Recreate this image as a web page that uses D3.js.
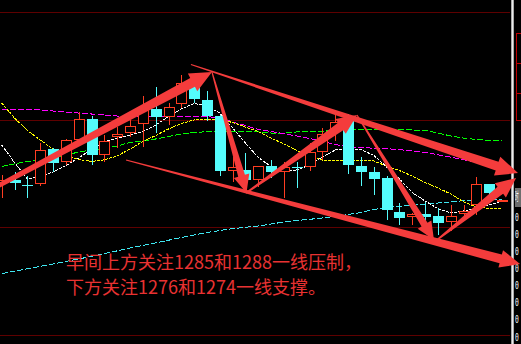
<!DOCTYPE html>
<html><head><meta charset="utf-8">
<script src="https://cdn.jsdelivr.net/npm/d3@7/dist/d3.min.js"></script>
<style>html,body{margin:0;padding:0;background:#000;overflow:hidden}</style>
</head><body>
<svg id="c" width="521" height="344"></svg>
<script>
// ---------------- DATA ----------------
const opens  = [1278.74,1278.97,1278.59,1278.61,1281.56,1280.50,1282.32,1284.05,1281.10,1282.59,
                1282.88,1283.63,1284.91,1284.26,1285.33,1286.83,1285.66,1284.35,1279.75,1279.81,
                1278.97,1280.14,1279.61,1280.08,1280.03,1281.34,1282.96,1283.91,1280.17,1279.64,
                1279.11,1276.29,1275.87,1276.12,1275.96,1275.48,1276.12,1276.88,1278.63,1277.25];
const highs  = [1279.39,1279.66,1279.30,1282.04,1281.65,1282.40,1284.68,1284.35,1282.73,1283.43,
                1283.99,1286.00,1286.72,1285.39,1287.75,1287.08,1286.44,1284.41,1280.92,1281.19,
                1280.14,1280.64,1280.50,1280.47,1282.04,1283.29,1284.49,1284.49,1280.87,1280.06,
                1279.30,1277.02,1276.21,1277.09,1276.63,1276.88,1276.88,1279.25,1278.63,1277.30];
const lows   = [1277.46,1278.13,1277.44,1278.47,1279.61,1280.22,1282.17,1280.22,1280.50,1281.62,
                1282.59,1281.70,1282.88,1283.57,1284.97,1285.39,1283.91,1279.33,1278.83,1278.80,
                1278.41,1279.11,1277.44,1278.30,1279.76,1280.64,1282.26,1279.43,1278.47,1277.71,
                1275.62,1275.20,1275.20,1274.95,1274.37,1274.73,1275.54,1276.04,1277.15,1277.25];
const closes = [1278.97,1278.69,1278.51,1281.48,1280.42,1282.32,1284.05,1281.06,1282.21,1282.79,
                1283.49,1284.83,1284.26,1285.05,1287.06,1285.72,1284.35,1279.75,1280.03,1278.97,
                1280.14,1279.61,1280.08,1280.00,1281.29,1282.82,1283.85,1280.22,1279.66,1279.05,
                1276.46,1275.81,1276.10,1275.85,1275.40,1275.96,1276.40,1278.63,1277.86,1277.30];

const maWhite   = [1281.90,1280.43,1279.05,1279.26,1279.64,1280.18,1280.81,1281.54,1282.17,1282.46,
                   1282.73,1283.03,1283.57,1284.28,1284.91,1285.37,1285.16,1284.57,1283.32,1282.06,
                   1280.85,1280.08,1279.68,1279.81,1280.22,1280.89,1281.48,1281.56,1281.52,1281.02,
                   1280.06,1279.05,1277.92,1277.21,1276.58,1276.21,1276.38,1276.63,1276.88,1277.21];
const maYellow  = [1285.41,1284.16,1283.11,1282.32,1281.56,1281.02,1280.68,1280.52,1280.66,1280.98,
                   1281.56,1282.19,1282.69,1283.24,1283.70,1283.99,1284.05,1284.03,1283.78,1283.40,
                   1283.03,1282.48,1281.98,1281.44,1280.94,1280.64,1280.64,1280.64,1280.64,1280.56,
                   1280.14,1279.76,1279.30,1278.76,1278.30,1277.80,1277.13,1276.71,1276.58,1276.54];
const maMagenta = [1284.91,1284.88,1284.85,1284.83,1284.74,1284.66,1284.57,1284.49,1284.41,1284.32,
                   1284.24,1284.24,1284.24,1284.26,1284.28,1284.32,1284.28,1284.16,1283.82,1283.53,
                   1283.19,1283.03,1282.84,1282.65,1282.44,1282.19,1281.94,1281.73,1281.68,1281.63,
                   1281.59,1281.51,1281.40,1281.28,1281.08,1280.88,1280.67,1280.46,1280.33,1280.21];
const maGreen   = [1280.10,1280.31,1280.52,1280.64,1280.81,1281.06,1281.31,1281.48,1281.60,1281.81,
                   1282.11,1282.23,1282.40,1282.61,1282.82,1282.94,1283.01,1283.01,1283.01,1283.01,
                   1282.99,1282.90,1282.90,1282.99,1283.01,1283.03,1283.15,1283.19,1283.19,1283.19,
                   1283.19,1283.19,1283.15,1283.11,1282.90,1282.65,1282.48,1282.36,1282.27,1282.23];
const maCyan    = [1271.13,1271.34,1271.54,1271.74,1271.94,1272.15,1272.36,1272.58,1272.81,1273.04,
                   1273.28,1273.50,1273.71,1273.93,1274.15,1274.37,1274.58,1274.74,1274.90,1275.01,
                   1275.12,1275.29,1275.45,1275.58,1275.68,1275.79,1275.93,1276.08,1276.25,1276.50,
                   1276.67,1276.78,1276.85,1276.94,1277.04,1277.14,1277.24,1277.30,1277.33,1277.35];

const gridPrices = [1293, 1284, 1275, 1266];

// arrows: [candle index, price]
const arrowStarts = [[-0.29,1278.47],[14.75,1288.63],[16.39,1288.00],[19.04,1277.88],[27.69,1284.41],[33.93,1273.95],[9.69,1280.64]];
const arrowEnds   = [[16.39,1288.00],[40.24,1279.55],[19.08,1277.88],[27.69,1284.41],[33.69,1273.95],[40.09,1279.14],[40.40,1271.94]];

const noteLines = ["早间上方关注1285和1288一线压制，", "下方关注1276和1274一线支撑。"];
const sideTag = "时";
const sideLabels = ["0","0","0","0","0","0","0","0"];

// ---------------- DRAW ----------------
const W = 521, H = 344;
const svg = d3.select('#c');
svg.append('rect').attr('width', W).attr('height', H).attr('fill', '#000');

const x = d3.scaleLinear().domain([0, 39]).range([1.7, 502.1]);
const y = d3.scaleLinear().domain([1293, 1266]).range([12.3, 335]);

// grid lines
svg.append('g').selectAll('line').data(gridPrices).join('line')
  .attr('x1', 0).attr('x2', 510)
  .attr('y1', d => Math.round(y(d)) + 0.5).attr('y2', d => Math.round(y(d)) + 0.5)
  .attr('stroke', '#5e0000').attr('stroke-width', 1);

// moving averages
const line = d3.line().x((d, i) => x(i)).y(d => y(d));
const maDefs = [
  {data: maCyan,    color: '#3ee6f0', dash: '6,2'},
  {data: maGreen,   color: '#00ff00', dash: '6,2'},
  {data: maMagenta, color: '#ff00ff', dash: '6,2'},
  {data: maYellow,  color: '#ffff00', dash: '3,1'},
  {data: maWhite,   color: '#ffffff', dash: '3,1'}
];
svg.append('g').selectAll('path').data(maDefs).join('path')
  .attr('d', d => line(d.data))
  .attr('fill', 'none').attr('stroke', d => d.color).attr('stroke-width', 1)
  .attr('stroke-dasharray', d => d.dash)
  .attr('shape-rendering', 'crispEdges');

// candles
const RED = '#ff3d22', CYAN = '#54fcfc';
const candles = opens.map((o, i) => ({i, o, h: highs[i], l: lows[i], c: closes[i], up: closes[i] >= o}));
const cg = svg.append('g').attr('shape-rendering', 'crispEdges');
candles.forEach(d => {
  const cx = Math.round(x(d.i));
  const top = Math.round(y(Math.max(d.o, d.c)));
  const bot = Math.max(top + 1, Math.round(y(Math.min(d.o, d.c))));
  const hy = Math.round(y(d.h)), ly = Math.round(y(d.l));
  const col = d.up ? RED : CYAN;
  if (d.up) {
    cg.append('line').attr('x1', cx + 0.5).attr('x2', cx + 0.5).attr('y1', hy).attr('y2', top).attr('stroke', col);
    cg.append('line').attr('x1', cx + 0.5).attr('x2', cx + 0.5).attr('y1', bot).attr('y2', ly).attr('stroke', col);
    cg.append('rect').attr('x', cx - 5 + 0.5).attr('y', top + 0.5).attr('width', 10).attr('height', Math.max(0.5, bot - top - 1))
      .attr('fill', '#000').attr('stroke', col).attr('stroke-width', 1);
  } else {
    cg.append('line').attr('x1', cx + 0.5).attr('x2', cx + 0.5).attr('y1', hy).attr('y2', ly).attr('stroke', col);
    cg.append('rect').attr('x', cx - 5).attr('y', top).attr('width', 11).attr('height', Math.max(1, bot - top))
      .attr('fill', col);
  }
});

// right side strip
svg.append('rect').attr('x', 511).attr('y', 0).attr('width', 3).attr('height', H).attr('fill', '#a8a8a8');
svg.append('rect').attr('x', 512).attr('y', 0).attr('width', 1).attr('height', H).attr('fill', '#ececec');
const rs = svg.append('g').attr('shape-rendering', 'crispEdges');
rs.append('line').attr('x1', 516.5).attr('x2', 516.5).attr('y1', 33).attr('y2', 120).attr('stroke', '#c00000');
[33, 63, 93, 120].forEach(v => rs.append('line').attr('x1', 516).attr('x2', 521).attr('y1', v + 0.5).attr('y2', v + 0.5).attr('stroke', '#c00000'));
rs.append('rect').attr('x', 515).attr('y', 188).attr('width', 6).attr('height', 19).attr('fill', '#6e6e6e');
svg.append('text').attr('transform', 'translate(515,201) scale(0.3,1)').attr('fill', '#fff')
  .attr('font-family', 'Noto Sans CJK SC').attr('font-size', 12).text(sideTag);
const sl = d3.scalePoint().domain(d3.range(sideLabels.length)).range([216, 336]);
svg.append('g').selectAll('text').data(sideLabels).join('text')
  .attr('x', 515).attr('y', (d, i) => sl(i) + 4.5).attr('fill', '#fff')
  .attr('font-family', 'DejaVu Sans Mono').attr('font-size', 11)
  .attr('textLength', 3.8).attr('lengthAdjust', 'spacingAndGlyphs').text(d => d);

// arrows
const arrowStyle = [
  {w0: 2.2, w1: 5,   hl: 22, hw: 10},
  {w0: 0.6, w1: 4.5, hl: 22, hw: 10},
  {w0: 0.6, w1: 3.5, hl: 18, hw: 8},
  {w0: 0.8, w1: 4.5, hl: 20, hw: 9},
  {w0: 0.6, w1: 3.5, hl: 18, hw: 8},
  {w0: 0.8, w1: 4.5, hl: 20, hw: 9},
  {w0: 0.6, w1: 4.5, hl: 20, hw: 9}
];
function arrowPath(s, e, st) {
  const tx = x(s[0]), ty = y(s[1]), px = x(e[0]), py = y(e[1]);
  const len = Math.hypot(px - tx, py - ty);
  const ux = (px - tx) / len, uy = (py - ty) / len;
  const nx = -uy, ny = ux;
  const bx = px - ux * st.hl, by = py - uy * st.hl;
  const pts = [
    [tx + nx * st.w0, ty + ny * st.w0],
    [bx + nx * st.w1, by + ny * st.w1],
    [bx + nx * st.hw, by + ny * st.hw],
    [px, py],
    [bx - nx * st.hw, by - ny * st.hw],
    [bx - nx * st.w1, by - ny * st.w1],
    [tx - nx * st.w0, ty - ny * st.w0]
  ];
  return 'M' + pts.map(p => p.join(',')).join('L') + 'Z';
}
svg.append('g').selectAll('path').data(arrowStarts).join('path')
  .attr('d', (d, i) => arrowPath(d, arrowEnds[i], arrowStyle[i]))
  .attr('fill', '#f43c3c');

// notes
svg.append('g').selectAll('text').data(noteLines).join('text')
  .attr('x', 66).attr('y', (d, i) => 269 + i * 25)
  .attr('fill', '#e83232')
  .attr('font-family', '"Noto Sans CJK SC", sans-serif')
  .attr('font-size', 18)
  .text(d => d);
</script>
</body></html>
